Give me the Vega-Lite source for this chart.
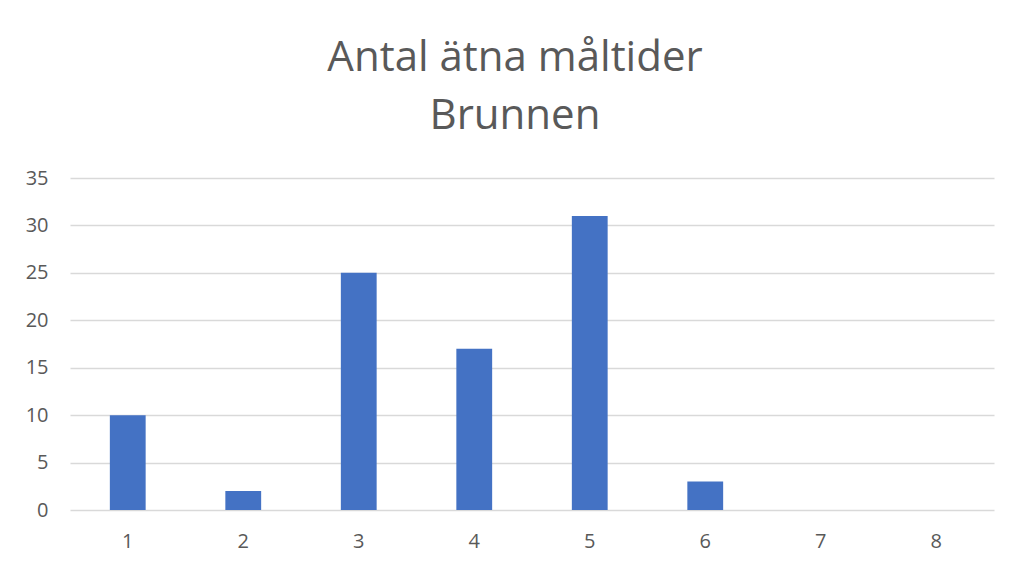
{
  "$schema": "https://vega.github.io/schema/vega-lite/v6.json",
  "autosize": {"type": "none"},
  "width": 924,
  "height": 332,
  "padding": {"left": 70, "top": 178, "right": 18, "bottom": 58},
  "background": "white",
  "title": {
    "text": ["Antal ätna måltider", "Brunnen"],
    "font": "Open Sans",
    "fontSize": 42,
    "fontWeight": "normal",
    "color": "#595959",
    "anchor": "middle",
    "lineHeight": 58,
    "offset": 30,
    "dx": -17
  },
  "data": {
    "values": [
      {"kategori": "1", "antal": 10},
      {"kategori": "2", "antal": 2},
      {"kategori": "3", "antal": 25},
      {"kategori": "4", "antal": 17},
      {"kategori": "5", "antal": 31},
      {"kategori": "6", "antal": 3},
      {"kategori": "7", "antal": 0},
      {"kategori": "8", "antal": 0}
    ]
  },
  "mark": {"type": "bar", "color": "#4472C4"},
  "encoding": {
    "x": {
      "field": "kategori",
      "type": "ordinal",
      "sort": null,
      "scale": {"paddingInner": 0.69, "paddingOuter": 0.345},
      "axis": {
        "title": null,
        "labelAngle": 0,
        "domain": false,
        "ticks": false,
        "labelFont": "Open Sans",
        "labelFontSize": 20,
        "labelColor": "#595959",
        "labelPadding": 21
      }
    },
    "y": {
      "field": "antal",
      "type": "quantitative",
      "scale": {"domain": [0, 35]},
      "axis": {
        "title": null,
        "values": [0, 5, 10, 15, 20, 25, 30, 35],
        "domain": false,
        "ticks": false,
        "grid": true,
        "gridColor": "#d9d9d9",
        "gridWidth": 1.5,
        "labelFont": "Open Sans",
        "labelFontSize": 20,
        "labelColor": "#595959",
        "labelPadding": 22
      }
    }
  },
  "config": {"view": {"stroke": null}}
}
